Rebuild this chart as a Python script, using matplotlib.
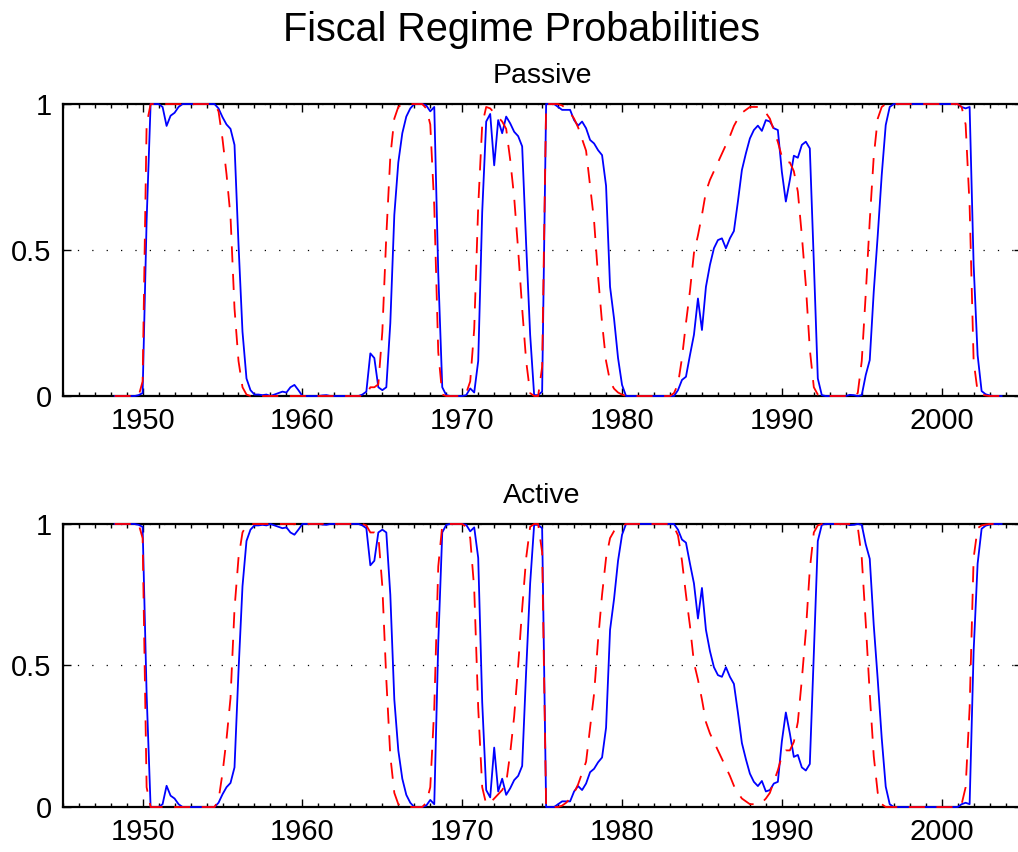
import numpy as np
import matplotlib.pyplot as plt

plt.rcParams['font.family'] = ['Liberation Sans', 'DejaVu Sans']

# quarterly probabilities of the passive regime, first quarter shown is 1948 Q2
start_year = 1948.25

passive_solid = [
    0, 0, 0,                        # 1948
    0, 0, 0, 0.003,                 # 1949
    0.01, 0.6, 1.0, 1.0,            # 1950
    1.0, 0.99, 0.925, 0.96,         # 1951
    0.97, 0.99, 1.0, 1.0,           # 1952
    1.0, 1.0, 1.0, 1.0,             # 1953
    1.0, 1.0, 1.0, 0.985,           # 1954
    0.955, 0.93, 0.915, 0.86,       # 1955
    0.52, 0.22, 0.06, 0.02,         # 1956
    0.005, 0.005, 0.003, 0.005,     # 1957
    0.0, 0.005, 0.01, 0.015,        # 1958
    0.012, 0.03, 0.038, 0.02,       # 1959
    0, 0, 0, 0,                     # 1960
    0, 0.002, 0.003, 0,             # 1961
    0, 0, 0, 0,                     # 1962
    0, 0, 0, 0.005,                 # 1963
    0.015, 0.146, 0.13, 0.03,       # 1964
    0.02, 0.03, 0.25, 0.62,         # 1965
    0.8, 0.9, 0.957, 0.985,         # 1966
    1.0, 1.0, 1.0, 0.995,           # 1967
    0.975, 0.99, 0.42, 0.03,        # 1968
    0.003, 0, 0, 0,                 # 1969
    0, 0.003, 0.026, 0.012,         # 1970
    0.12, 0.63, 0.94, 0.966,        # 1971
    0.79, 0.945, 0.9, 0.957,        # 1972
    0.934, 0.905, 0.89, 0.855,      # 1973
    0.52, 0.21, 0.003, 0.003,       # 1974
    0.015, 1.0, 1.0, 1.0,           # 1975
    0.99, 0.98, 0.98, 0.98,         # 1976
    0.945, 0.926, 0.94, 0.917,      # 1977
    0.877, 0.865, 0.842, 0.825,     # 1978
    0.72, 0.374, 0.265, 0.13,       # 1979
    0.038, 0, 0, 0,                 # 1980
    0, 0, 0, 0,                     # 1981
    0, 0, 0, 0,                     # 1982
    0, 0, 0.02, 0.055,              # 1983
    0.066, 0.14, 0.21, 0.334,       # 1984
    0.226, 0.374, 0.449, 0.506,     # 1985
    0.534, 0.54, 0.506, 0.54,       # 1986
    0.565, 0.666, 0.774, 0.831,     # 1987
    0.882, 0.911, 0.926, 0.908,     # 1988
    0.945, 0.94, 0.917, 0.911,      # 1989
    0.768, 0.666, 0.74, 0.823,      # 1990
    0.816, 0.86, 0.871, 0.848,      # 1991
    0.46, 0.06, 0.003, 0,           # 1992
    0, 0, 0, 0,                     # 1993
    0, 0.004, 0.003, 0,             # 1994
    0.003, 0.072, 0.123, 0.357,     # 1995
    0.55, 0.757, 0.928, 0.99,       # 1996
    1, 1, 1, 1,                     # 1997
    1, 1, 1, 1,                     # 1998
    1, 1, 1, 1,                     # 1999
    1, 1, 1, 1,                     # 2000
    1.0, 0.99, 0.985, 0.99,         # 2001
    0.45, 0.14, 0.017, 0.006,       # 2002
    0.002, 0, 0, 0,                 # 2003
]

passive_dashed = [
    0, 0, 0,                        # 1948
    0, 0, 0, 0,                     # 1949
    0.05, 0.93, 1.0, 1.0,           # 1950
    1, 1, 1, 1,                     # 1951
    1, 1, 1, 1,                     # 1952
    1, 1, 1, 1,                     # 1953
    1.0, 1.0, 1.0, 0.975,           # 1954
    0.88, 0.76, 0.615, 0.3,         # 1955
    0.12, 0.03, 0.005, 0,           # 1956
    0, 0, 0, 0,                     # 1957
    0, 0, 0, 0,                     # 1958
    0, 0, 0, 0,                     # 1959
    0, 0, 0, 0,                     # 1960
    0, 0, 0, 0,                     # 1961
    0, 0, 0, 0,                     # 1962
    0, 0, 0, 0,                     # 1963
    0.005, 0.03, 0.03, 0.04,        # 1964
    0.22, 0.55, 0.82, 0.95,         # 1965
    0.99, 1.0, 1.0, 1.0,            # 1966
    1.0, 1.0, 1.0, 0.985,           # 1967
    0.93, 0.65, 0.15, 0.005,        # 1968
    0, 0, 0, 0,                     # 1969
    0, 0.01, 0.05, 0.23,            # 1970
    0.65, 0.93, 0.99, 0.985,        # 1971
    0.97, 0.955, 0.94, 0.915,       # 1972
    0.81, 0.68, 0.5, 0.3,           # 1973
    0.12, 0.01, 0, 0,               # 1974
    0.1, 1.0, 1.0, 1.0,             # 1975
    1.0, 0.995, 0.985, 0.97,        # 1976
    0.95, 0.92, 0.88, 0.84,         # 1977
    0.72, 0.6, 0.41, 0.25,          # 1978
    0.12, 0.05, 0.025, 0.012,       # 1979
    0.005, 0, 0, 0,                 # 1980
    0, 0, 0, 0,                     # 1981
    0, 0, 0, 0,                     # 1982
    0, 0.01, 0.04, 0.13,            # 1983
    0.25, 0.36, 0.49, 0.55,         # 1984
    0.62, 0.7, 0.74, 0.77,          # 1985
    0.8, 0.83, 0.86, 0.89,          # 1986
    0.925, 0.95, 0.97, 0.98,        # 1987
    0.99, 0.99, 0.99, 0.985,        # 1988
    0.97, 0.95, 0.91, 0.87,         # 1989
    0.82, 0.8, 0.8, 0.77,           # 1990
    0.7, 0.55, 0.38, 0.16,          # 1991
    0.03, 0.005, 0, 0,              # 1992
    0, 0, 0, 0,                     # 1993
    0, 0, 0, 0.01,                  # 1994
    0.12, 0.35, 0.6, 0.82,          # 1995
    0.95, 0.99, 1.0, 1.0,           # 1996
    1, 1, 1, 1,                     # 1997
    1, 1, 1, 1,                     # 1998
    1, 1, 1, 1,                     # 1999
    1, 1, 1, 1,                     # 2000
    1.0, 0.99, 0.93, 0.65,          # 2001
    0.12, 0.015, 0.005, 0.002,      # 2002
    0, 0, 0, 0,                     # 2003
]

panel_titles = ['Passive', 'Active']
year_ticks = [1950, 1960, 1970, 1980, 1990, 2000]
prob_ticks = [0, 0.5, 1]
prob_labels = ['0', '0.5', '1']

passive_solid = np.array(passive_solid)
passive_dashed = np.array(passive_dashed)
dates = start_year + 0.25 * np.arange(len(passive_solid))

# the two regimes are complementary
series = [(passive_solid, passive_dashed),
          (1 - passive_solid, 1 - passive_dashed)]

fig = plt.figure(figsize=(10.18, 8.52), dpi=100)
positions = [[0.0616, 0.5352, 0.9419, 0.3427],
             [0.0616, 0.0528, 0.9419, 0.3322]]

for pos, title, (solid, dashed) in zip(positions, panel_titles, series):
    ax = fig.add_axes(pos)
    ax.plot(dates, solid, color='#0000ff', lw=1.3, zorder=3, clip_on=False)
    ax.plot(dates, dashed, color='#ff0000', lw=1.3, dashes=(8.9, 6.4),
            zorder=4, clip_on=False)
    ax.set_xlim(1945, 2005)
    ax.set_ylim(0, 1)
    ax.set_xticks(year_ticks)
    ax.set_xticks(np.arange(1945, 2006), minor=True)
    ax.set_yticks(prob_ticks)
    ax.set_yticklabels(prob_labels)
    ax.yaxis.grid(True, linestyle=(0, (1, 10.5)), color='k', lw=0.9)
    ax.tick_params(which='both', direction='in', top=True, right=True,
                   labelsize=21, width=1)
    ax.tick_params(which='major', length=5.8, pad=8)
    ax.tick_params(which='minor', length=2.9)
    for sp in ax.spines.values():
        sp.set_linewidth(1.6)
    ax.set_title(title, fontsize=20.5, pad=15)

fig.text(0.512, 0.952, 'Fiscal Regime Probabilities', fontsize=28.5,
         ha='center', va='baseline')

fig.savefig('out.png', dpi=100)
